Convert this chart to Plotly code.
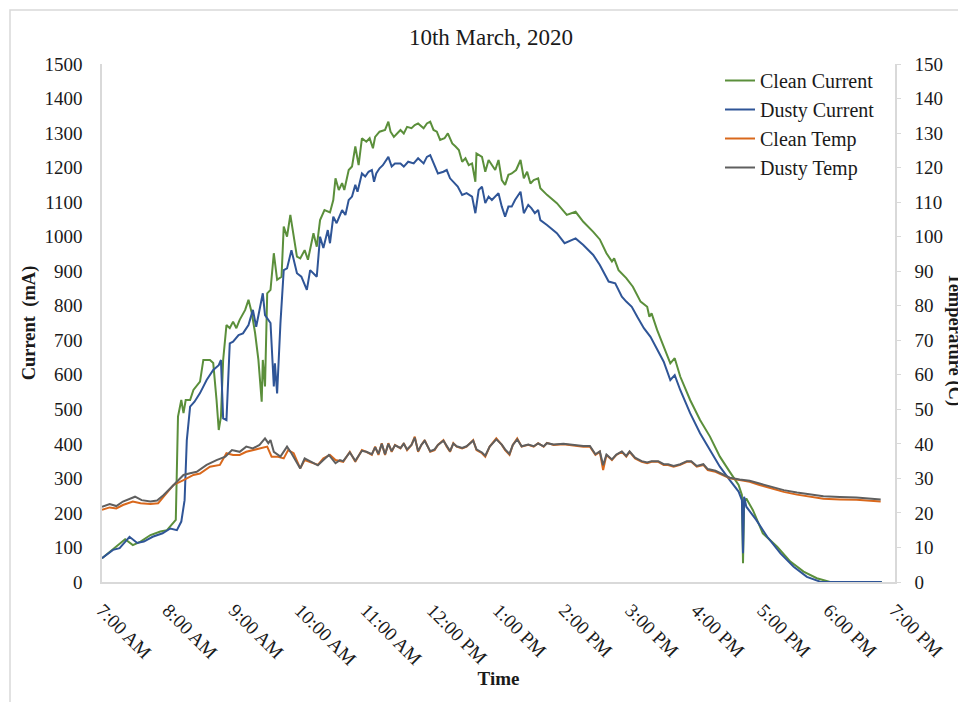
import pandas as pd
import plotly.graph_objects as go

# Minutes after 07:00 and readings for each series
clean_current_min = [0, 7, 21, 28, 35, 44, 53, 59, 63, 67, 69, 72, 74, 76, 80, 83, 89, 92, 98, 101,
                     104, 106, 108, 110, 113, 116, 119, 122, 125, 130, 133, 136, 139, 142, 145, 146, 148, 150, 153, 156,
                     159, 163, 165, 168, 171, 174, 177, 180, 184, 187, 192, 195, 198, 202, 207, 210, 212, 215, 218, 220,
                     224, 227, 230, 233, 236, 240, 243, 246, 248, 252, 257, 260, 262, 265, 268, 271, 274, 277, 281, 284,
                     287, 292, 295, 298, 301, 304, 307, 311, 314, 318, 321, 324, 327, 330, 333, 336, 339, 340, 345, 348,
                     351, 354, 357, 360, 363, 366, 369, 372, 376, 380, 383, 386, 389, 392, 396, 398, 404, 413, 422, 430,
                     437, 446, 452, 458, 463, 465, 469, 476, 482, 489, 495, 497, 499, 504, 510, 516, 520, 525, 534, 543,
                     552, 561, 570, 578, 581, 582, 583, 585, 591, 600, 613, 625, 637, 649, 661, 708]
clean_current = [69, 88, 124, 107, 117, 136, 146, 150, 165, 180, 479, 527, 489, 527, 527, 556, 580, 643, 643, 634,
                 527, 440, 479, 643, 744, 735, 754, 735, 759, 788, 817, 779, 721, 643, 522, 643, 566, 836, 846, 952,
                 875, 884, 1029, 1000, 1063, 1000, 942, 937, 961, 933, 1010, 971, 1048, 1077, 1070, 1106, 1169, 1135, 1155, 1135,
                 1193, 1203, 1261, 1207, 1285, 1275, 1285, 1256, 1289, 1304, 1309, 1333, 1304, 1289, 1299, 1309, 1299, 1318, 1314, 1323,
                 1328, 1314, 1328, 1333, 1309, 1304, 1280, 1285, 1299, 1270, 1261, 1251, 1217, 1227, 1207, 1212, 1159, 1241, 1231, 1188,
                 1222, 1207, 1193, 1222, 1164, 1150, 1179, 1183, 1193, 1222, 1169, 1188, 1154, 1164, 1169, 1140, 1121, 1097, 1063, 1072,
                 1043, 1014, 992, 952, 928, 937, 903, 880, 855, 812, 797, 768, 778, 730, 681, 633, 648, 595, 527, 469,
                 421, 363, 319, 281, 252, 54, 228, 242, 208, 141, 102, 59, 30, 11, 0, 0]

dusty_current_min = [0, 10, 16, 25, 32, 38, 46, 55, 62, 68, 72, 75, 77, 80, 84, 89, 95, 101, 106, 108,
                     110, 113, 116, 119, 124, 128, 133, 137, 140, 143, 146, 148, 153, 156, 157, 159, 162, 165, 168, 172,
                     177, 181, 186, 189, 195, 198, 201, 205, 207, 210, 213, 218, 221, 224, 227, 230, 232, 236, 239, 242,
                     245, 247, 249, 252, 255, 260, 263, 266, 271, 274, 278, 283, 287, 292, 295, 298, 301, 305, 310, 313,
                     316, 323, 327, 331, 336, 339, 342, 345, 348, 351, 354, 357, 360, 363, 366, 369, 372, 375, 380, 383,
                     387, 390, 393, 396, 398, 404, 413, 420, 430, 437, 446, 452, 460, 466, 472, 476, 481, 486, 492, 498,
                     504, 510, 516, 520, 525, 534, 543, 552, 561, 570, 578, 581, 582, 583, 585, 594, 604, 616, 628, 640,
                     652, 708]
dusty_current = [69, 93, 98, 131, 113, 117, 131, 141, 155, 150, 175, 237, 411, 508, 522, 547, 585, 614, 628, 643,
                 474, 469, 691, 696, 715, 720, 744, 788, 739, 788, 836, 773, 750, 566, 633, 546, 749, 903, 908, 961,
                 894, 884, 846, 903, 884, 1000, 967, 1019, 981, 1058, 1039, 1077, 1063, 1106, 1116, 1150, 1130, 1183, 1174, 1188,
                 1193, 1159, 1183, 1198, 1207, 1231, 1203, 1212, 1212, 1203, 1217, 1212, 1227, 1212, 1231, 1236, 1212, 1183, 1188, 1193,
                 1169, 1145, 1121, 1126, 1116, 1068, 1135, 1145, 1097, 1116, 1106, 1116, 1126, 1087, 1058, 1087, 1087, 1106, 1130, 1068,
                 1092, 1082, 1068, 1077, 1048, 1034, 1010, 981, 995, 976, 947, 918, 870, 865, 826, 812, 797, 768, 735, 710,
                 672, 638, 585, 599, 556, 489, 431, 382, 334, 295, 262, 237, 83, 247, 218, 180, 131, 83, 44, 15,
                 1, 0]

clean_temp_min = [0, 7, 13, 19, 28, 35, 44, 51, 56, 65, 74, 83, 89, 98, 107, 113, 119, 125, 131, 137,
                  143, 150, 154, 159, 165, 169, 174, 180, 184, 189, 196, 201, 207, 212, 219, 225, 230, 236, 240, 245,
                  248, 251, 254, 257, 260, 263, 266, 271, 274, 277, 281, 284, 287, 290, 293, 298, 302, 305, 310, 313,
                  316, 319, 322, 327, 331, 337, 340, 345, 348, 352, 358, 363, 366, 370, 373, 377, 381, 387, 392, 396,
                  401, 404, 410, 419, 428, 437, 443, 448, 452, 455, 458, 463, 467, 472, 476, 479, 484, 490, 495, 499,
                  505, 510, 514, 519, 525, 531, 535, 540, 546, 550, 557, 563, 570, 579, 588, 597, 607, 619, 631, 643,
                  655, 670, 685, 707]
clean_temp = [20.9, 21.6, 21.3, 22.3, 23.3, 22.8, 22.6, 22.8, 24.7, 28.1, 29.5, 31.0, 31.4, 33.4, 33.9, 37.3, 36.8, 36.8, 37.7, 38.2,
              38.7, 39.2, 36.3, 36.3, 35.8, 38.2, 37.3, 32.9, 35.3, 34.8, 33.9, 35.8, 36.8, 35.3, 34.8, 37.7, 34.8, 38.2, 37.7, 36.8,
              39.2, 36.8, 40.2, 36.8, 40.2, 37.7, 39.7, 38.7, 40.2, 38.2, 39.7, 42.1, 37.7, 39.7, 41.1, 37.7, 38.2, 39.7, 41.1, 39.2,
              37.7, 40.2, 39.2, 38.7, 39.2, 41.1, 38.2, 37.3, 36.3, 39.2, 41.6, 39.7, 38.2, 36.8, 39.7, 41.6, 39.2, 39.7, 39.2, 40.2,
              39.2, 40.3, 39.7, 39.9, 39.5, 39.2, 39.2, 36.8, 37.7, 32.4, 36.8, 35.3, 36.8, 37.7, 36.3, 37.7, 35.8, 34.8, 34.4, 34.8,
              34.8, 33.9, 33.9, 33.4, 33.9, 34.8, 34.8, 33.4, 33.9, 32.4, 31.9, 31.0, 30.0, 29.5, 29.0, 28.1, 27.1, 26.1, 25.3, 24.6,
              24.1, 23.9, 23.8, 23.3]

dusty_temp_min = [0, 7, 13, 19, 30, 36, 44, 50, 56, 65, 74, 80, 86, 95, 104, 112, 118, 125, 131, 137,
                  143, 148, 151, 153, 156, 162, 168, 172, 180, 184, 192, 196, 201, 206, 212, 216, 219, 225, 230, 236,
                  240, 245, 248, 251, 254, 257, 260, 263, 266, 271, 274, 277, 281, 284, 287, 290, 293, 298, 302, 305,
                  310, 313, 316, 319, 322, 327, 331, 337, 340, 345, 348, 352, 358, 363, 366, 370, 373, 377, 381, 387,
                  392, 396, 401, 404, 410, 419, 428, 437, 443, 448, 452, 455, 458, 463, 467, 472, 476, 479, 484, 490,
                  495, 499, 505, 510, 514, 519, 525, 531, 535, 540, 546, 550, 557, 563, 570, 579, 588, 597, 607, 619,
                  631, 643, 655, 670, 685, 707]
dusty_temp = [21.8, 22.6, 22.0, 23.3, 24.7, 23.7, 23.3, 23.6, 25.2, 28.1, 31.0, 31.5, 31.9, 33.9, 35.3, 36.3, 38.2, 37.7, 39.2, 38.7,
              39.7, 41.6, 40.2, 41.1, 37.7, 36.3, 39.2, 37.3, 32.9, 35.8, 34.4, 33.8, 35.3, 36.8, 34.4, 35.3, 35.0, 37.5, 35.1, 38.0,
              37.7, 37.0, 39.0, 37.1, 40.0, 37.0, 40.0, 37.9, 39.6, 38.8, 40.0, 38.4, 39.7, 41.8, 37.9, 39.7, 40.9, 37.9, 38.4, 39.7,
              40.9, 39.3, 37.9, 40.1, 39.3, 38.8, 39.3, 40.9, 38.4, 37.5, 36.6, 39.2, 41.3, 39.8, 38.4, 37.1, 39.7, 41.3, 39.3, 39.8,
              39.3, 40.1, 39.3, 40.2, 39.8, 40.0, 39.6, 39.4, 39.4, 37.0, 37.8, 33.8, 36.9, 35.5, 36.9, 37.8, 36.5, 37.8, 36.0, 35.0,
              34.6, 35.0, 35.0, 34.1, 34.1, 33.6, 34.1, 35.0, 35.0, 33.6, 34.1, 32.7, 32.2, 31.3, 30.2, 29.7, 29.3, 28.5, 27.6, 26.6,
              25.9, 25.3, 24.8, 24.6, 24.5, 23.9]

DAY = pd.Timestamp("2020-03-10 07:00")


def clock(minutes):
    return DAY + pd.to_timedelta(minutes, unit="m")


FONT = "Liberation Serif, Times New Roman, serif"
TEXT = "#1a1a1a"
AXIS = "#d9d9d9"

series = [
    ("Clean Current", clean_current_min, clean_current, "#5b8f3b", "y"),
    ("Dusty Current", dusty_current_min, dusty_current, "#2f5597", "y"),
    ("Clean Temp", clean_temp_min, clean_temp, "#d9681c", "y2"),
    ("Dusty Temp", dusty_temp_min, dusty_temp, "#5f5f5f", "y2"),
]

fig = go.Figure()
for name, mins, vals, color, axis in series:
    fig.add_trace(go.Scatter(
        x=clock(mins), y=vals, name=name, mode="lines", yaxis=axis,
        line=dict(color=color, width=2),
    ))

fig.update_layout(
    width=958, height=702,
    margin=dict(l=102, r=63, t=64, b=120),
    paper_bgcolor="white", plot_bgcolor="white",
    font=dict(family=FONT, size=19, color=TEXT),
    title=dict(text="10th March, 2020", x=491 / 958, xref="container", xanchor="center",
               y=1 - 37 / 702, yref="container", yanchor="middle",
               font=dict(family=FONT, size=23, color=TEXT)),
    xaxis=dict(
        type="date",
        range=[DAY, DAY + pd.Timedelta(hours=12)],
        dtick=3600000, tick0=DAY,
        tickformat="%-I:%M %p", tickangle=45,
        showgrid=False, zeroline=False,
        showline=True, linecolor=AXIS, linewidth=1.5,
        ticks="", ticklabelstandoff=8,
        title=dict(text="<b>Time</b>", font=dict(family=FONT, size=19, color=TEXT), standoff=2),
    ),
    yaxis=dict(
        range=[0, 1500], dtick=100,
        showgrid=False, zeroline=False,
        showline=True, linecolor=AXIS, linewidth=1.5,
        ticks="", ticklabelstandoff=14,
        title=dict(text="<b>Current  (mA)</b>", font=dict(family=FONT, size=18.5, color=TEXT), standoff=4),
    ),
    yaxis2=dict(
        range=[0, 150], dtick=10, overlaying="y", side="right",
        showgrid=False, zeroline=False,
        showline=True, linecolor=AXIS, linewidth=1.5,
        ticks="outside", ticklen=4, tickcolor=AXIS, ticklabelstandoff=10,
    ),
    legend=dict(
        x=(720 - 102) / 793, y=1 - (61 - 64) / 518, xanchor="left", yanchor="top",
        bgcolor="rgba(0,0,0,0)", font=dict(family=FONT, size=20, color=TEXT),
        tracegroupgap=0, itemwidth=30,
    ),
    showlegend=True,
)

# Secondary axis title, reading downwards at the right edge
fig.add_annotation(
    text="<b>Temperature (C)</b>", textangle=90,
    xref="paper", yref="paper",
    x=(955 - 102) / 793, y=1 - (340 - 64) / 518,
    xanchor="center", yanchor="middle", showarrow=False,
    font=dict(family=FONT, size=18.5, color=TEXT),
)

# Chart-area frame
fig.add_shape(
    type="rect", xref="paper", yref="paper",
    x0=(10 - 102) / 793, x1=(975 - 102) / 793,
    y0=1 - (720 - 64) / 518, y1=1 - (10 - 64) / 518,
    line=dict(color=AXIS, width=1.5), fillcolor="rgba(0,0,0,0)", layer="below",
)

fig.write_html("out.html")
